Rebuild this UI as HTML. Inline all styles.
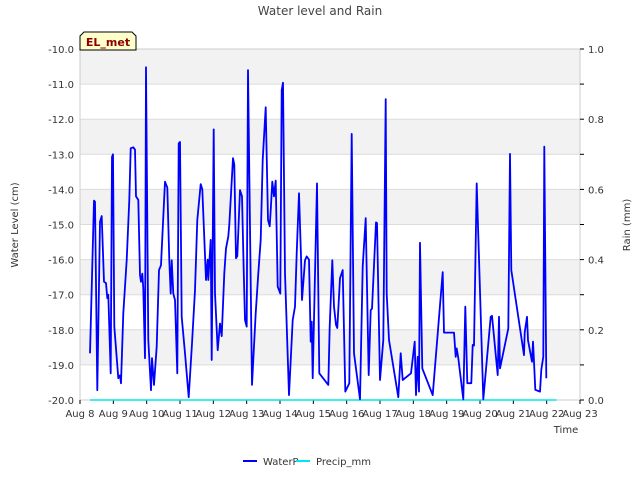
<!DOCTYPE html>
<html><head><meta charset="utf-8"><style>
body{margin:0;background:#fff;}
svg{display:block;font-family:"DejaVu Sans","Liberation Sans",sans-serif;}
</style></head><body>
<svg id="chart" width="640" height="480" viewBox="0 0 640 480">
<text x="320" y="15" text-anchor="middle" font-size="12" fill="#444">Water level and Rain</text>
<g id="bands"></g>
<g id="grid"></g>
<rect x="80" y="49" width="500" height="351" fill="none" stroke="#ccc"/>
<g id="yticks"></g>
<g id="rticks"></g>
<g id="xticks"></g>
<g id="series"></g>
<text transform="translate(18,225) rotate(-90)" text-anchor="middle" font-size="10" fill="#333">Water Level (cm)</text>
<text transform="translate(630,225) rotate(-90)" text-anchor="middle" font-size="10" fill="#333">Rain (mm)</text>
<text x="566" y="433" text-anchor="middle" font-size="10" fill="#333">Time</text>
<g>
<polygon points="84,32 132,32 136,36 136,50 80,50 80,36" fill="#ffffcc" stroke="#000" stroke-width="1"/>
<text x="108" y="46" text-anchor="middle" font-size="11" font-weight="bold" fill="#8b0000">EL_met</text>
</g>
<g>
<g>
<line x1="243" y1="461" x2="257" y2="461" stroke="#0000ff" stroke-width="2"/>
<text x="263" y="465" font-size="10" fill="#333">WaterP</text></g>
<g>
<line x1="296" y1="461" x2="310" y2="461" stroke="#00e5ee" stroke-width="2"/>
<text x="316" y="465" font-size="10" fill="#333">Precip_mm</text></g>
</g>
</svg>
<script>
const xTickLabels=["Aug 8","Aug 9","Aug 10","Aug 11","Aug 12","Aug 13","Aug 14","Aug 15","Aug 16","Aug 17","Aug 18","Aug 19","Aug 20","Aug 21","Aug 22","Aug 23"];
const yTicks=[-10,-11,-12,-13,-14,-15,-16,-17,-18,-19,-20];
const rTicks=[0,0.1,0.2,0.3,0.4,0.5,0.6,0.7,0.8,0.9,1.0];
// days since Aug 8 00:00
const waterT=[0.30,0.42,0.45,0.52,0.60,0.65,0.72,0.78,0.82,0.85,0.92,0.96,0.99,1.03,1.15,1.20,1.23,1.30,1.40,1.48,1.52,1.60,1.65,1.68,1.75,1.80,1.83,1.87,1.90,1.95,1.98,2.05,2.13,2.16,2.22,2.30,2.37,2.43,2.45,2.50,2.55,2.62,2.68,2.72,2.75,2.80,2.85,2.92,2.96,3.00,3.05,3.15,3.26,3.36,3.45,3.52,3.62,3.67,3.78,3.83,3.85,3.92,3.95,4.01,4.05,4.13,4.20,4.25,4.33,4.38,4.45,4.48,4.59,4.63,4.68,4.72,4.80,4.86,4.91,4.95,5.00,5.04,5.16,5.27,5.35,5.42,5.48,5.57,5.64,5.69,5.72,5.77,5.82,5.87,5.93,6.01,6.05,6.09,6.15,6.27,6.38,6.45,6.50,6.57,6.63,6.66,6.75,6.80,6.87,6.92,6.95,6.98,7.11,7.18,7.45,7.49,7.57,7.62,7.68,7.72,7.80,7.88,7.96,8.08,8.15,8.22,8.40,8.48,8.57,8.66,8.72,8.76,8.88,8.91,9.00,9.10,9.17,9.20,9.27,9.55,9.62,9.68,9.93,10.04,10.08,10.13,10.17,10.20,10.27,10.58,10.88,10.92,11.22,11.27,11.30,11.35,11.50,11.56,11.62,11.74,11.78,11.82,11.90,12.10,12.32,12.36,12.53,12.57,12.60,12.85,12.90,12.94,13.32,13.34,13.41,13.44,13.56,13.59,13.62,13.66,13.80,13.84,13.90,13.93,13.99];
const waterV=[-18.67,-14.32,-14.35,-19.72,-14.92,-14.76,-16.63,-16.67,-17.1,-17.0,-19.24,-13.07,-13.0,-17.91,-19.38,-19.3,-19.52,-17.53,-16.01,-14.3,-12.83,-12.8,-12.87,-14.2,-14.3,-16.44,-16.63,-16.4,-16.83,-18.81,-10.52,-18.29,-19.72,-18.81,-19.57,-18.48,-16.3,-16.16,-15.73,-14.78,-13.78,-13.95,-16.02,-16.97,-16.02,-16.97,-17.15,-19.24,-12.69,-12.65,-17.63,-18.67,-19.92,-18.39,-16.87,-14.87,-13.85,-14.0,-16.58,-16.0,-16.58,-15.44,-18.86,-12.29,-16.96,-18.58,-17.82,-18.18,-16.39,-15.68,-15.34,-15.0,-13.11,-13.3,-15.96,-15.9,-14.02,-14.2,-16.3,-17.72,-17.91,-10.6,-19.57,-17.53,-16.39,-15.44,-13.16,-11.66,-14.87,-15.05,-14.6,-13.78,-14.2,-13.75,-16.77,-16.97,-11.17,-10.96,-16.39,-19.86,-17.72,-17.34,-15.82,-14.11,-15.91,-17.15,-16.02,-15.91,-16.0,-18.34,-17.77,-19.38,-13.83,-19.24,-19.57,-17.91,-16.02,-17.34,-17.86,-17.95,-16.53,-16.3,-19.76,-19.52,-12.42,-18.67,-19.98,-16.2,-14.82,-19.29,-17.44,-17.4,-14.94,-14.96,-19.43,-18.29,-11.43,-16.97,-18.29,-19.92,-18.67,-19.43,-19.24,-18.34,-19.86,-18.77,-19.76,-15.52,-19.1,-19.86,-16.36,-18.08,-18.08,-18.77,-18.53,-18.81,-19.98,-17.34,-19.52,-19.52,-18.43,-18.45,-13.83,-19.98,-17.63,-17.6,-19.29,-17.63,-19.1,-17.96,-12.99,-16.3,-18.72,-18.08,-17.63,-18.3,-18.91,-18.34,-18.91,-19.71,-19.76,-19.14,-18.77,-12.78,-19.38];
const precipT=[0.30,14.30];
const precipV=[0,0];

const NS="http://www.w3.org/2000/svg";
const L=80,R=580,T=49,B=400;
const xs=d=>L+d*(R-L)/15;
const ys=v=>T+(-10-v)*(B-T)/10;
const yr=v=>B-v*(B-T)/1.0;
function mk(tag,attrs,parent){const e=document.createElementNS(NS,tag);for(const k in attrs)e.setAttribute(k,attrs[k]);parent.appendChild(e);return e;}
const bands=document.getElementById('bands'),grid=document.getElementById('grid'),yt=document.getElementById('yticks'),rt=document.getElementById('rticks'),xt=document.getElementById('xticks'),ser=document.getElementById('series');
for(let i=0;i<10;i+=2){
 const r=mk('rect',{x:L,y:ys(-10-i),width:R-L,height:ys(-11-i)-ys(-10-i),fill:'#f2f2f2'},bands);
 
 
}
yTicks.forEach(v=>{
 const g=mk('line',{x1:L,x2:R,y1:ys(v),y2:ys(v),stroke:'#dcdcdc','stroke-width':1},grid);
 
 
 const t=mk('text',{x:L-6,y:ys(v)+4,'text-anchor':'end','font-size':10,fill:'#333'},yt);
 
 
 t.textContent=v.toFixed(1);
});
rTicks.forEach((v,i)=>{
 const tk=mk('line',{x1:R,x2:R+4,y1:yr(v),y2:yr(v),stroke:'#000'},rt);
 
 
 if(i%2===0){
  const t=mk('text',{x:R+8,y:yr(v)+4,'font-size':10,fill:'#333'},rt);
  
  
  t.textContent=v.toFixed(1);
 }
});
xTickLabels.forEach((s,i)=>{
 const tk=mk('line',{x1:xs(i),x2:xs(i),y1:B,y2:B+4,stroke:'#000'},xt);
 
 
 const t=mk('text',{x:xs(i),y:B+17,'text-anchor':'middle','font-size':10,fill:'#333'},xt);
 
 
 t.textContent=s;
});
const pp=mk('polyline',{points:precipT.map((t,i)=>xs(t)+','+yr(precipV[i])).join(' '),fill:'none',stroke:'#00e5ee','stroke-width':1.5},ser);


const wl=mk('polyline',{points:waterT.map((t,i)=>xs(t).toFixed(1)+','+ys(waterV[i]).toFixed(1)).join(' '),fill:'none',stroke:'#0000ff','stroke-width':1.8,'stroke-linejoin':'round'},ser);


</script>
</body></html>
